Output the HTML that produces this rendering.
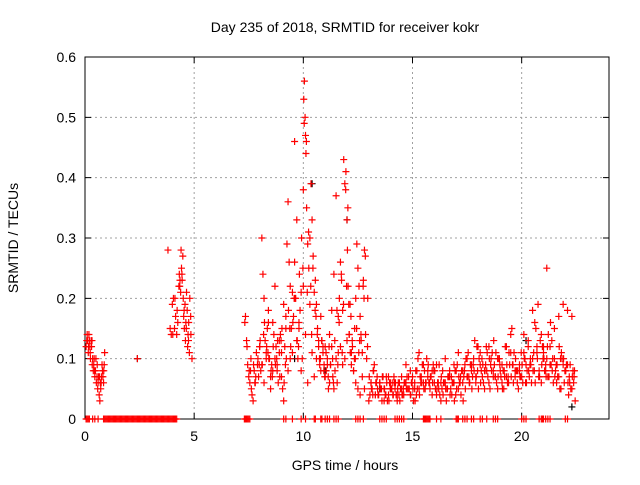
<!DOCTYPE html>
<html><head><meta charset="utf-8">
<style>
html,body{margin:0;padding:0;background:#fff;}
svg text{font-family:"Liberation Sans",sans-serif;fill:#000;}
</style></head>
<body>
<svg id="chart" width="640" height="480" viewBox="0 0 640 480">
<text x="345" y="32" font-size="14" text-anchor="middle">Day 235 of 2018, SRMTID for receiver kokr</text>
<g id="grid"></g>
<g id="axes"></g>
<g id="marks"></g>
<text x="345" y="470" font-size="14" text-anchor="middle">GPS time / hours</text>
<text x="18" y="238" font-size="14" text-anchor="middle" transform="rotate(-90 18 238)">SRMTID / TECUs</text>
</svg>
<script>
const xTicks=[0,5,10,15,20];
const yTicks=[0,0.1,0.2,0.3,0.4,0.5,0.6];
const yTickLabels=["0","0.1","0.2","0.3","0.4","0.5","0.6"];
// red series: hours and SRMTID values
const redHours=[0.05,0.1,0.12,0.15,0.18,0.2,0.22,0.25,0.28,0.3,0.33,0.35,0.38,0.4,0.42,0.45,0.48,0.5,0.52,0.55,0.58,0.6,0.62,0.65,0.68,0.7,0.72,0.75,0.78,0.8,0.82,0.85,0.88,0.9,
2.4,3.8,3.9,3.95,4.0,4.05,4.1,4.15,4.2,4.25,4.3,4.32,4.35,4.38,4.4,4.42,4.45,4.48,4.5,4.52,4.55,4.58,4.6,4.62,4.65,4.68,4.7,4.72,4.75,4.78,4.8,4.85,4.9,
7.35,7.4,7.45,7.5,7.55,7.6,7.65,7.7,7.75,7.8,7.85,7.9,7.95,8.0,8.05,8.1,8.15,8.2,8.25,8.3,8.35,8.4,8.45,8.5,8.55,8.6,8.65,8.7,8.75,8.8,8.85,8.9,8.95,9.0,9.05,9.1,9.15,9.2,9.25,9.3,9.35,9.4,9.45,9.5,9.55,9.6,9.65,9.7,9.75,9.8,9.85,9.9,9.95,10.0,10.02,10.05,10.08,10.1,10.12,10.15,10.2,10.25,10.3,10.35,10.4,10.45,10.5,10.55,10.6,10.65,10.7,10.75,10.8,10.85,10.9,10.95,11.0,11.05,11.1,11.15,11.2,11.25,11.3,11.35,11.4,11.45,11.5,11.55,11.6,11.65,11.7,11.75,11.8,11.85,11.9,11.95,12.0,12.02,12.05,12.08,12.1,12.15,12.2,12.25,12.3,12.35,12.4,12.45,12.5,12.55,12.6,12.65,12.7,12.75,12.8,12.85,12.9,12.95,
8.0,8.1,8.2,8.3,8.4,8.5,8.6,8.7,8.8,8.9,9.0,9.1,9.2,9.3,9.4,9.5,9.6,9.7,9.8,9.9,10.0,10.1,10.2,10.3,10.4,10.5,10.6,10.7,10.8,10.9,11.0,11.1,11.2,11.3,11.4,11.5,11.6,11.7,11.8,11.9,12.0,12.1,12.2,12.3,12.4,12.5,12.6,12.7,12.8,
13.0,13.1,13.2,13.3,13.4,13.5,13.6,13.7,13.8,13.9,14.0,14.1,14.2,14.3,14.4,14.5,14.6,14.7,14.8,14.9,15.0,15.1,15.2,15.3,15.4,15.5,15.6,15.7,15.8,15.9,16.0,16.1,16.2,16.3,16.4,16.5,16.6,16.7,16.8,16.9,17.0,17.1,17.2,17.3,17.4,17.5,17.6,17.7,17.8,17.9,18.0,18.1,18.2,18.3,18.4,18.5,18.6,18.7,18.8,18.9,19.0,19.1,19.2,19.3,19.4,19.5,19.6,19.7,19.8,19.9,20.0,20.1,20.2,20.3,20.4,20.5,20.6,20.7,20.8,20.9,21.0,21.1,21.2,21.3,21.4,21.5,21.6,21.7,21.8,21.9,22.0,22.1,22.2,22.3,22.4,
13.05,13.15,13.25,13.35,13.45,13.55,13.65,13.75,13.85,13.95,14.05,14.15,14.25,14.35,14.45,14.55,14.65,14.75,14.85,14.95,15.05,15.15,15.25,15.35,15.45,15.55,15.65,15.75,15.85,15.95,16.05,16.15,16.25,16.35,16.45,16.55,16.65,16.75,16.85,16.95,17.05,17.15,17.25,17.35,17.45,17.55,17.65,17.75,17.85,17.95,18.05,18.15,18.25,18.35,18.45,18.55,18.65,18.75,18.85,18.95,19.05,19.15,19.25,19.35,19.45,19.55,19.65,19.75,19.85,19.95,20.05,20.15,20.25,20.35,20.45,20.55,20.65,20.75,20.85,20.95,21.05,21.15,21.25,21.35,21.45,21.55,21.65,21.75,21.85,21.95,22.05,22.15,22.25,22.35,22.45,
13.1,13.3,13.5,13.7,13.9,14.1,14.3,14.5,14.7,14.9,15.1,15.3,15.5,15.7,15.9,16.1,16.3,16.5,16.7,16.9,17.1,17.3,17.5,17.7,17.9,18.1,18.3,18.5,18.7,18.9,19.1,19.3,19.5,19.7,19.9,20.1,20.3,20.5,20.7,20.9,21.1,21.3,21.5,21.7,21.9,22.1,22.3,21.0,21.15,21.25,21.35,20.1,20.15,20.2,21.4];
const redValues=[0.12,0.14,0.13,0.11,0.14,0.13,0.12,0.1,0.13,0.12,0.09,0.1,0.08,0.09,0.1,0.07,0.08,0.1,0.06,0.07,0.05,0.06,0.07,0.04,0.03,0.06,0.05,0.07,0.09,0.08,0.07,0.06,0.09,0.11,
0.1,0.28,0.15,0.14,0.19,0.2,0.15,0.17,0.14,0.16,0.22,0.24,0.23,0.21,0.28,0.25,0.23,0.27,0.2,0.17,0.15,0.19,0.13,0.16,0.21,0.18,0.12,0.14,0.16,0.11,0.2,0.14,0.1,
0.17,0.13,0.09,0.07,0.06,0.1,0.04,0.03,0.08,0.06,0.11,0.09,0.07,0.12,0.08,0.3,0.24,0.2,0.13,0.11,0.15,0.18,0.1,0.07,0.09,0.16,0.14,0.1,0.12,0.08,0.06,0.11,0.14,0.07,0.05,0.03,0.12,0.17,0.29,0.36,0.26,0.22,0.15,0.11,0.17,0.26,0.2,0.13,0.1,0.15,0.18,0.21,0.1,0.38,0.53,0.56,0.5,0.47,0.44,0.35,0.29,0.25,0.3,0.39,0.33,0.27,0.21,0.23,0.19,0.15,0.12,0.09,0.17,0.13,0.11,0.09,0.12,0.08,0.1,0.05,0.06,0.09,0.12,0.07,0.05,0.08,0.1,0.06,0.11,0.2,0.26,0.23,0.18,0.43,0.39,0.41,0.33,0.28,0.22,0.19,0.14,0.11,0.09,0.12,0.08,0.15,0.2,0.29,0.25,0.22,0.17,0.13,0.11,
0.23,0.28,0.14,0.1,0.2,0.12,0.09,0.06,0.1,0.16,0.05,0.08,0.22,0.09,0.13,0.11,0.19,0.15,0.08,0.1,0.21,0.46,0.33,0.16,0.08,0.22,0.14,0.06,0.19,0.11,0.07,0.1,0.13,0.08,0.12,0.07,0.09,0.14,0.18,0.24,0.37,0.17,0.12,0.09,0.1,0.13,0.14,0.11,0.08,
0.06,0.05,0.04,0.07,0.05,0.03,0.06,0.08,0.04,0.05,0.06,0.03,0.05,0.07,0.04,0.06,0.04,0.05,0.03,0.06,0.05,0.04,0.06,0.05,0.04,0.07,0.06,0.08,0.05,0.07,0.09,0.06,0.07,0.05,0.08,0.06,0.04,0.05,0.03,0.04,0.06,0.05,0.07,0.04,0.06,0.08,0.05,0.07,0.06,0.09,0.07,0.06,0.08,0.1,0.07,0.12,0.09,0.07,0.05,0.08,0.06,0.1,0.08,0.07,0.05,0.09,0.06,0.08,0.07,0.06,0.14,0.09,0.07,0.06,0.08,0.07,0.11,0.09,0.13,0.1,0.18,0.16,0.12,0.08,0.14,0.11,0.09,0.07,0.12,0.08,0.1,0.06,0.07,0.05,0.09,
0.08,0.09,0.06,0.05,0.07,0.04,0.05,0.09,0.06,0.04,0.05,0.07,0.04,0.03,0.06,0.05,0.07,0.04,0.06,0.05,0.04,0.06,0.07,0.05,0.06,0.03,0.08,0.1,0.07,0.09,0.08,0.1,0.06,0.07,0.09,0.05,0.06,0.04,0.05,0.06,0.03,0.07,0.05,0.06,0.08,0.09,0.06,0.08,0.07,0.1,0.11,0.09,0.07,0.13,0.12,0.1,0.08,0.06,0.09,0.07,0.05,0.11,0.09,0.06,0.1,0.07,0.08,0.12,0.06,0.09,0.15,0.11,0.08,0.05,0.07,0.06,0.1,0.08,0.07,0.06,0.11,0.15,0.19,0.13,0.12,0.08,0.1,0.07,0.09,0.06,0.08,0.07,0.05,0.1,0.06,
0.09,0.04,0.05,0.08,0.03,0.06,0.04,0.06,0.03,0.07,0.06,0.04,0.07,0.09,0.08,0.05,0.11,0.06,0.08,0.04,0.09,0.06,0.1,0.08,0.09,0.11,0.08,0.1,0.09,0.06,0.11,0.08,0.12,0.07,0.1,0.09,0.12,0.11,0.08,0.09,0.14,0.12,0.1,0.11,0.06,0.08,0.09,0.15,0.17,0.19,0.18,0.17,0.12,0.25];
// additional red samples (denser coverage)
const redHours2=[0.08,0.16,0.24,0.32,0.44,0.56,0.66,0.74,0.86,4.02,4.12,4.22,4.34,4.44,4.54,4.64,4.74,4.84,
7.32,7.42,7.52,7.62,7.72,7.82,7.92,8.02,8.12,8.22,8.32,8.42,8.52,8.62,8.72,8.82,8.92,9.02,9.12,9.22,9.32,9.42,9.52,9.62,9.72,9.82,9.92,10.04,10.14,10.24,10.34,10.44,10.54,10.64,10.74,10.84,10.94,11.04,11.14,11.24,11.34,11.44,11.54,11.64,11.74,11.84,11.94,12.04,12.14,12.24,12.34,12.44,12.54,12.64,12.74,12.84,12.94,
7.58,7.78,7.98,8.18,8.38,8.58,8.78,8.98,9.18,9.38,9.58,9.78,9.98,10.18,10.38,10.58,10.78,10.98,11.18,11.38,11.58,11.78,11.98,12.18,12.38,12.58,12.78,
13.02,13.12,13.22,13.32,13.42,13.52,13.62,13.72,13.82,13.92,14.02,14.12,14.22,14.32,14.42,14.52,14.62,14.72,14.82,14.92,15.02,15.12,15.22,15.32,15.42,15.52,15.62,15.72,15.82,15.92,16.02,16.12,16.22,16.32,16.42,16.52,16.62,16.72,16.82,16.92,17.02,17.12,17.22,17.32,17.42,17.52,17.62,17.72,17.82,17.92,18.02,18.12,18.22,18.32,18.42,18.52,18.62,18.72,18.82,18.92,19.02,19.12,19.22,19.32,19.42,19.52,19.62,19.72,19.82,19.92,20.02,20.12,20.22,20.32,20.42,20.52,20.62,20.72,20.82,20.92,21.02,21.12,21.22,21.32,21.42,21.52,21.62,21.72,21.82,21.92,22.02,22.12,22.22,22.32,22.42,
13.18,13.38,13.58,13.78,13.98,14.18,14.38,14.58,14.78,14.98,15.18,15.38,15.58,15.78,15.98,16.18,16.38,16.58,16.78,16.98,17.18,17.38,17.58,17.78,17.98,18.18,18.38,18.58,18.78,18.98,19.18,19.38,19.58,19.78,19.98,20.18,20.38,20.58,20.78,20.98,21.18,21.38,21.58,21.78,21.98,22.18,22.38];
const redValues2=[0.13,0.12,0.11,0.13,0.08,0.09,0.07,0.06,0.08,0.14,0.2,0.18,0.22,0.24,0.18,0.15,0.13,0.17,
0.16,0.12,0.08,0.05,0.09,0.07,0.1,0.13,0.09,0.16,0.12,0.1,0.08,0.12,0.09,0.13,0.07,0.15,0.06,0.1,0.18,0.12,0.16,0.2,0.13,0.24,0.3,0.49,0.46,0.31,0.22,0.25,0.18,0.14,0.1,0.13,0.08,0.11,0.07,0.09,0.1,0.13,0.18,0.16,0.24,0.19,0.38,0.35,0.19,0.13,0.1,0.15,0.11,0.14,0.22,0.27,0.12,
0.08,0.06,0.09,0.14,0.11,0.07,0.1,0.13,0.09,0.15,0.2,0.12,0.25,0.21,0.14,0.17,0.1,0.07,0.12,0.06,0.09,0.11,0.22,0.17,0.1,0.13,0.2,
0.07,0.05,0.08,0.06,0.04,0.05,0.07,0.05,0.06,0.03,0.05,0.04,0.06,0.05,0.03,0.04,0.06,0.05,0.07,0.04,0.05,0.03,0.05,0.04,0.06,0.05,0.06,0.09,0.07,0.06,0.08,0.05,0.09,0.07,0.06,0.05,0.07,0.04,0.06,0.03,0.05,0.07,0.04,0.03,0.05,0.07,0.06,0.05,0.08,0.07,0.05,0.06,0.09,0.08,0.11,0.1,0.08,0.13,0.11,0.07,0.08,0.05,0.07,0.09,0.11,0.07,0.06,0.1,0.08,0.07,0.09,0.1,0.06,0.08,0.09,0.08,0.06,0.1,0.07,0.09,0.1,0.07,0.14,0.16,0.1,0.07,0.09,0.12,0.11,0.1,0.08,0.06,0.09,0.07,0.08,
0.04,0.07,0.05,0.04,0.05,0.06,0.04,0.05,0.05,0.06,0.04,0.06,0.05,0.06,0.08,0.06,0.08,0.05,0.07,0.04,0.06,0.08,0.07,0.09,0.08,0.1,0.12,0.09,0.07,0.1,0.05,0.07,0.09,0.08,0.11,0.06,0.09,0.08,0.07,0.1,0.12,0.13,0.09,0.1,0.08,0.07,0.06];
// hours of red markers plotted at zero
const zeroHours=[0.05,0.1,0.15,0.2,0.35,0.45,0.6,0.85,0.9,0.95,1.0,1.05,1.1,1.15,1.2,1.25,1.3,1.35,1.4,1.45,1.5,1.55,1.6,1.65,1.7,1.75,1.8,1.85,1.9,1.95,2.0,2.05,2.1,2.15,2.2,2.25,2.3,2.35,2.4,2.45,2.5,2.55,2.6,2.65,2.7,2.75,2.8,2.85,2.9,2.95,3.0,3.05,3.1,3.15,3.2,3.25,3.3,3.35,3.4,3.45,3.5,3.55,3.6,3.65,3.7,3.75,3.8,3.85,3.9,3.95,4.0,4.05,4.1,4.15,4.2,7.3,7.35,7.4,7.45,7.5,7.55,9.1,9.2,9.5,9.9,10.1,10.5,10.55,10.8,10.85,11.0,11.1,11.2,11.4,11.5,11.6,12.4,12.5,12.6,12.75,13.5,13.6,13.7,13.8,14.2,14.3,14.4,14.5,14.6,15.5,15.55,15.6,15.65,15.7,15.75,15.8,16.1,16.3,17.0,17.05,17.1,17.3,17.4,17.5,17.7,17.8,18.1,18.2,18.4,18.7,18.8,18.9,20.0,20.1,20.2,20.8,20.9,20.95,21.0,21.1,21.2,21.3,22.0,22.1];
// black series (mostly hidden)
const blackHours=[2.4,10.4,12.0,20.2,22.3,9.6,11.0,13.5];
const blackValues=[0.1,0.39,0.33,0.13,0.02,0.1,0.08,0.05];

const X0=85,X1=609,Y0=419,Y1=57,XMAX=24,YMAX=0.6;
const xs=h=>X0+h/XMAX*(X1-X0);
const ys=v=>Y0-v/YMAX*(Y0-Y1);
const NS="http://www.w3.org/2000/svg";
function mk(tag,attrs,parent){const e=document.createElementNS(NS,tag);for(const k in attrs)e.setAttribute(k,attrs[k]);parent.appendChild(e);return e;}
const grid=document.getElementById('grid'),axes=document.getElementById('axes'),marks=document.getElementById('marks');
xTicks.forEach(t=>{
  const x=xs(t);
  if(t>0){const g=mk('line',{x1:x,x2:x,y1:Y1,y2:Y0,stroke:'#a0a0a0','stroke-dasharray':'2,3'},grid);
  
  }
  const tk=mk('path',{d:`M${x},${Y0}v-6M${x},${Y1}v6`,stroke:'#000'},axes);
  
  
  const l=mk('text',{x:x,y:Y0+22,'font-size':14,'text-anchor':'middle'},axes);l.textContent=t;
  
  
});
yTicks.forEach((t,i)=>{
  const y=ys(t);
  if(t>0&&t<YMAX){const g=mk('line',{x1:X0,x2:X1,y1:y,y2:y,stroke:'#a0a0a0','stroke-dasharray':'2,3'},grid);
  
  }
  const tk=mk('path',{d:`M${X0},${y}h6M${X1},${y}h-6`,stroke:'#000'},axes);
  
  
  const l=mk('text',{x:X0-9,y:y+5,'font-size':14,'text-anchor':'end'},axes);l.textContent=yTickLabels[i];
  
  
});
const fr=mk('rect',{x:X0,y:Y1,width:X1-X0,height:Y0-Y1,fill:'none',stroke:'#000'},axes);


function plus(h,v,col){
  const x=xs(h),y=ys(v);
  const p=mk('path',{d:`M${x-3.5},${y}h7M${x},${y-3.5}v7`,stroke:col,'stroke-width':1.2},marks);
  return p;
}
blackHours.forEach((h,i)=>{const p=plus(h,blackValues[i],'#000');
  
  });
redHours.forEach((h,i)=>{const p=plus(h,redValues[i],'#ff0000');
  
  });
redHours2.forEach((h,i)=>{const p=plus(h,redValues2[i],'#ff0000');
  
  });
zeroHours.forEach(h=>{const p=plus(h,0,'#ff0000');
  
  });
</script>
</body></html>
